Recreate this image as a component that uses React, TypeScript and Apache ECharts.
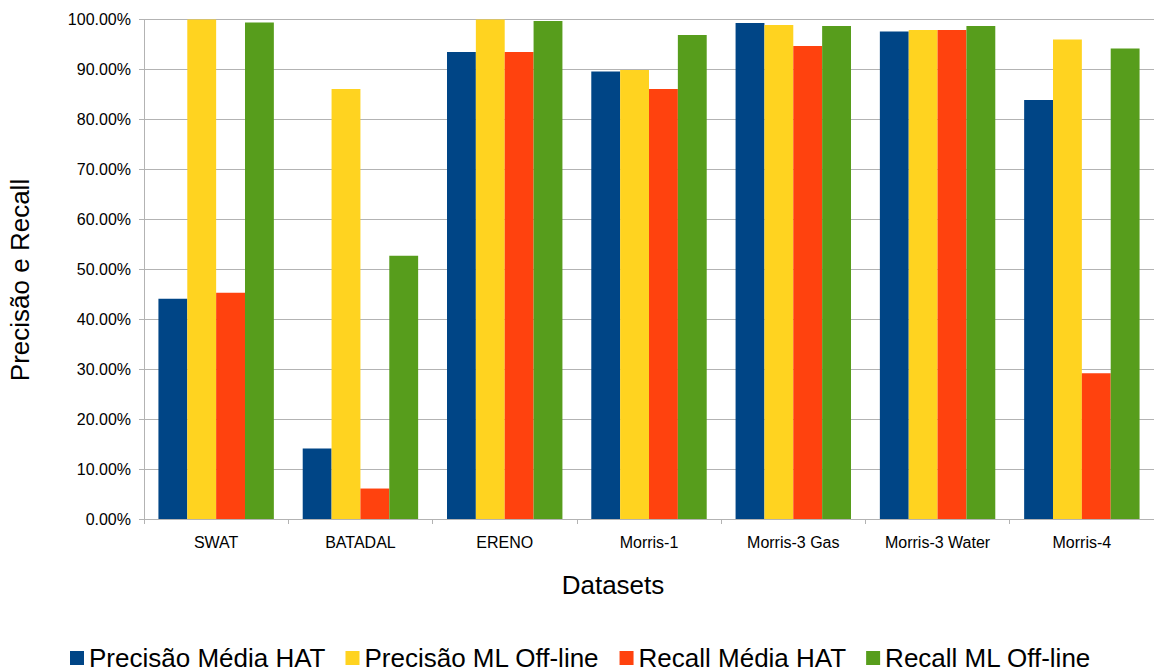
import React, { useEffect, useRef } from "react";
import * as echarts from "echarts";

const categories = [
  "SWAT",
  "BATADAL",
  "ERENO",
  "Morris-1",
  "Morris-3 Gas",
  "Morris-3 Water",
  "Morris-4",
];

const precisaoMediaHAT = [0.441, 0.141, 0.935, 0.896, 0.993, 0.976, 0.839];
const precisaoMLOffline = [1.0, 0.861, 1.0, 0.899, 0.989, 0.979, 0.96];
const recallMediaHAT = [0.453, 0.061, 0.935, 0.861, 0.947, 0.979, 0.292];
const recallMLOffline = [0.994, 0.527, 0.997, 0.969, 0.987, 0.987, 0.942];

const seriesNames = [
  "Precisão Média HAT",
  "Precisão ML Off-line",
  "Recall Média HAT",
  "Recall ML Off-line",
];
const seriesColors = ["#004586", "#ffd320", "#ff420e", "#579d1c"];

const FONT = "'Liberation Sans', Arial, sans-serif";

export default function App() {
  const ref = useRef<HTMLDivElement>(null);

  useEffect(() => {
    if (!ref.current) return;
    const chart = echarts.init(ref.current, undefined, { renderer: "svg" });
    const data = [precisaoMediaHAT, precisaoMLOffline, recallMediaHAT, recallMLOffline];

    chart.setOption({
      animation: false,
      backgroundColor: "#ffffff",
      textStyle: { fontFamily: FONT },
      grid: { left: 144, top: 19.5, bottom: 149, right: -10, containLabel: false },
      legend: {
        left: 70,
        top: 645,
        padding: 0,
        icon: "rect",
        itemWidth: 14,
        itemHeight: 14,
        itemGap: 20,
        textStyle: { fontFamily: FONT, fontSize: 26, lineHeight: 22, color: "#000000" },
        data: seriesNames,
      },
      xAxis: {
        type: "category",
        data: categories,
        axisLine: { lineStyle: { color: "#b3b3b3", width: 1 } },
        axisTick: { show: true, length: 5, lineStyle: { color: "#b3b3b3" } },
        axisLabel: { margin: 15, fontSize: 16, color: "#000000", fontFamily: FONT, interval: 0 },
        splitLine: { show: false },
      },
      yAxis: {
        type: "value",
        min: 0,
        max: 1,
        interval: 0.1,
        axisLine: { show: true, lineStyle: { color: "#b3b3b3", width: 1 } },
        axisTick: { show: true, length: 5, lineStyle: { color: "#b3b3b3" } },
        axisLabel: {
          margin: 13,
          fontSize: 16,
          color: "#000000",
          fontFamily: FONT,
          formatter: (v: number) => (v * 100).toFixed(2) + "%",
        },
        splitLine: { show: true, lineStyle: { color: "#b3b3b3", width: 1 } },
      },
      graphic: [
        {
          type: "text",
          x: 20,
          y: 280,
          rotation: Math.PI / 2,
          style: {
            text: "Precisão e Recall",
            fontFamily: FONT,
            fontSize: 26,
            fill: "#000000",
            align: "center",
            verticalAlign: "middle",
          },
        },
        {
          type: "text",
          x: 613,
          y: 585,
          style: {
            text: "Datasets",
            fontFamily: FONT,
            fontSize: 26,
            fill: "#000000",
            align: "center",
            verticalAlign: "middle",
          },
        },
      ],
      series: seriesNames.map((name, i) => ({
        name,
        type: "bar",
        data: data[i],
        barGap: "0%",
        barCategoryGap: "20%",
        itemStyle: { color: seriesColors[i] },
      })),
    });

    return () => chart.dispose();
  }, []);

  return (
    <div
      ref={ref}
      style={{ position: "fixed", left: 0, top: 0, width: 1154, height: 668 }}
    />
  );
}
